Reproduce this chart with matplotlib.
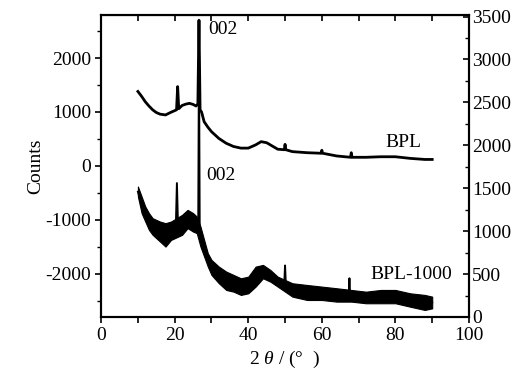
"""
XRD patterns of BPL and BPL-1000
"""

import matplotlib
matplotlib.use('Agg')
import matplotlib.pyplot as plt
from matplotlib.ticker import MultipleLocator

plt.rcParams['font.family'] = ['Liberation Serif', 'DejaVu Serif']
plt.rcParams['axes.unicode_minus'] = False
plt.rcParams['mathtext.fontset'] = 'custom'
plt.rcParams['mathtext.it'] = 'Liberation Serif:italic'
plt.rcParams['mathtext.rm'] = 'Liberation Serif'

# BPL curve (left axis)
bpl_x = [10, 11, 12, 13, 14, 15, 16, 17.5, 19, 20.5, 20.8, 21.1, 22, 23, 24, 25,
         25.8, 26.3, 26.6, 26.9, 27.3, 28, 29, 30, 32, 34, 36, 38, 40, 42, 43.5,
         45, 46, 48, 49.8, 50, 50.2, 52, 56, 59.8, 60, 60.2, 64, 67.8, 68, 68.2,
         72, 76, 80, 84, 88, 90]
bpl_y = [1380, 1290, 1190, 1110, 1040, 990, 960, 945, 995, 1040, 1470, 1060, 1120,
         1145, 1160, 1140, 1110, 1150, 2700, 1040, 1000, 820, 720, 635, 510, 420,
         360, 330, 330, 390, 450, 430, 390, 310, 300, 400, 300, 265, 245, 235, 290,
         235, 185, 160, 245, 160, 160, 170, 170, 140, 120, 120]

# BPL-1000 curve (right axis): peaks line
bpl1000_x = [10, 11, 12, 13, 14, 16, 17.5, 19, 20.3, 20.6, 20.9, 22, 23.5, 25, 26,
             26.4, 26.6, 26.8, 27, 28, 29, 30, 32, 34, 36, 38, 40, 42, 43.5, 44, 46,
             48, 49.8, 50, 50.2, 52, 56, 60, 64, 67.3, 67.5, 67.7, 72, 76, 80, 84,
             88, 90]
bpl1000_y = [1460, 1300, 1200, 1110, 1050, 995, 955, 1005, 1040, 1560, 1060, 1075,
             1140, 1100, 1075, 1075, 3115, 1000, 935, 800, 665, 575, 490, 420, 390,
             355, 375, 470, 560, 530, 480, 410, 400, 600, 390, 315, 285, 275, 255,
             250, 451, 245, 225, 235, 240, 200, 170, 170]

# BPL-1000 noise band (lower / upper envelope)
band_x = [10, 11, 12, 13, 14, 16, 17.5, 19, 22, 23.5, 25, 26, 27, 28, 29, 30, 32,
          34, 36, 38, 40, 42, 44, 46, 48, 52, 56, 60, 64, 68, 72, 76, 80, 84, 88, 90]
band_lo = [1404, 1210, 1112, 1015, 957, 879, 820, 898, 957, 1035, 995, 977, 820,
           704, 587, 490, 393, 315, 295, 257, 276, 354, 451, 412, 354, 237, 198,
           198, 179, 179, 160, 160, 160, 120, 82, 101]
band_hi = [1520, 1404, 1287, 1210, 1151, 1112, 1093, 1112, 1190, 1248, 1210, 1170,
           1054, 898, 743, 665, 587, 529, 490, 451, 470, 587, 607, 548, 470, 393,
           373, 354, 335, 315, 295, 315, 315, 276, 257, 237]

fig = plt.figure(figsize=(5.24, 3.81), dpi=100)
ax = fig.add_axes([0.193, 0.168, 0.702, 0.793])
ax2 = ax.twinx()

ax.plot(bpl_x, bpl_y, color='black', linewidth=2.0, solid_joinstyle='round')
ax2.fill_between(band_x, band_lo, band_hi, color='black', linewidth=0.8)
ax2.plot(bpl1000_x, bpl1000_y, color='black', linewidth=1.4)

ax.set_xlim(0, 100)
ax.set_ylim(-2800, 2800)
ax2.set_ylim(0, 3520)

ax.xaxis.set_major_locator(MultipleLocator(20))
ax.xaxis.set_minor_locator(MultipleLocator(10))
ax.yaxis.set_major_locator(MultipleLocator(1000))
ax.yaxis.set_minor_locator(MultipleLocator(500))
ax2.yaxis.set_major_locator(MultipleLocator(500))
ax2.yaxis.set_minor_locator(MultipleLocator(250))

ax.tick_params(axis='x', which='both', direction='out', length=4, width=1.2,
               labelsize=14, pad=3, top=False)
ax.tick_params(axis='y', which='major', direction='out', length=4, width=1.2,
               labelsize=14, pad=3)
ax.tick_params(axis='y', which='minor', direction='out', length=3, width=1.0)
ax2.tick_params(axis='y', which='major', direction='in', length=4, width=1.2,
                labelsize=14, pad=2)
ax2.tick_params(axis='y', which='minor', direction='in', length=3, width=1.0)

# top axis ticks pointing inward
top = ax.secondary_xaxis('top')
top.xaxis.set_major_locator(MultipleLocator(10))
top.tick_params(direction='in', length=4, width=1.2, labeltop=False)

for a in (ax, ax2):
    for s in a.spines.values():
        s.set_linewidth(1.5)

ax.set_xlabel(r'2 $\it{θ}$ / (°  )', fontsize=14, labelpad=4)
ax.set_ylabel('Counts', fontsize=14, labelpad=1)

ax.text(29.0, 2530, '002', fontsize=14, va='center', ha='left')
ax.text(28.7, -170, '002', fontsize=14, va='center', ha='left')
ax.text(82.3, 430, 'BPL', fontsize=14, va='center', ha='center')
ax.text(84.3, -2020, 'BPL-1000', fontsize=14, va='center', ha='center')

plt.savefig('out.png', dpi=100)
plt.close()
